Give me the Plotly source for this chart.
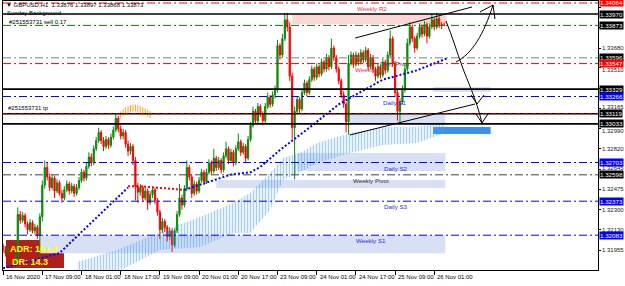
import plotly.graph_objects as go

# ---------------- data (GBPUSD H1) ----------------
opens = [1.3199, 1.3196, 1.3193, 1.3197, 1.3190, 1.3186, 1.3190, 1.3226, 1.3221, 1.3225,
         1.3218, 1.3213, 1.3219, 1.3212, 1.3215, 1.3208, 1.3224, 1.3251, 1.3266, 1.3258,
         1.3249, 1.3257, 1.3246, 1.3253, 1.3244, 1.3240, 1.3247, 1.3252, 1.3246, 1.3250,
         1.3244, 1.3249, 1.3255, 1.3262, 1.3257, 1.3267, 1.3275, 1.3270, 1.3282, 1.3289,
         1.3296, 1.3289, 1.3284, 1.3290, 1.3285, 1.3292, 1.3298, 1.3308, 1.3299, 1.3293,
         1.3296, 1.3286, 1.3280, 1.3284, 1.3272, 1.3250, 1.3245, 1.3249, 1.3240, 1.3246,
         1.3236, 1.3243, 1.3247, 1.3238, 1.3228, 1.3213, 1.3220, 1.3215, 1.3207, 1.3212,
         1.3200, 1.3212, 1.3226, 1.3240, 1.3234, 1.3248, 1.3266, 1.3258, 1.3244, 1.3252,
         1.3246, 1.3255, 1.3262, 1.3254, 1.3262, 1.3270, 1.3263, 1.3274, 1.3266, 1.3272,
         1.3264, 1.3276, 1.3282, 1.3272, 1.3279, 1.3270, 1.3282, 1.3288, 1.3279, 1.3284,
         1.3274, 1.3290, 1.3302, 1.3314, 1.3306, 1.3318, 1.3312, 1.3306, 1.3318, 1.3326,
         1.3320, 1.3328, 1.3332, 1.3370, 1.3362, 1.3376, 1.3392, 1.3386, 1.3344, 1.3300,
         1.3314, 1.3324, 1.3316, 1.3330, 1.3338, 1.3330, 1.3341, 1.3350, 1.3343, 1.3352,
         1.3346, 1.3356, 1.3350, 1.3360, 1.3352, 1.3368, 1.3360, 1.3350, 1.3340, 1.3328,
         1.3320, 1.3305, 1.3355, 1.3362, 1.3354, 1.3362, 1.3356, 1.3364, 1.3358, 1.3366,
         1.3352, 1.3360, 1.3350, 1.3344, 1.3352, 1.3345, 1.3356, 1.3349, 1.3362, 1.3376,
         1.3355, 1.3330, 1.3314, 1.3322, 1.3332, 1.3350, 1.3372, 1.3386, 1.3376, 1.3368,
         1.3378, 1.3386, 1.3380, 1.3388, 1.3378, 1.3386, 1.3392, 1.3386, 1.3393, 1.3388,
         1.33876]
highs = [1.3201, 1.3199, 1.3200, 1.3199, 1.3193, 1.3192, 1.3232, 1.3229, 1.3228, 1.3227,
         1.3220, 1.3222, 1.3221, 1.3218, 1.3217, 1.3227, 1.3255, 1.3272, 1.3270, 1.3261,
         1.3260, 1.3259, 1.3256, 1.3255, 1.3247, 1.3250, 1.3255, 1.3254, 1.3253, 1.3252,
         1.3252, 1.3258, 1.3265, 1.3264, 1.3270, 1.3279, 1.3278, 1.3285, 1.3292, 1.3300,
         1.3298, 1.3292, 1.3293, 1.3292, 1.3295, 1.3301, 1.3312, 1.3310, 1.3302, 1.3299,
         1.3298, 1.3289, 1.3287, 1.3286, 1.3275, 1.3253, 1.3252, 1.3251, 1.3249, 1.3248,
         1.3246, 1.3250, 1.3249, 1.3240, 1.3230, 1.3223, 1.3222, 1.3217, 1.3215, 1.3214,
         1.3214, 1.3229, 1.3252, 1.3243, 1.3251, 1.3272, 1.3268, 1.3260, 1.3255, 1.3254,
         1.3258, 1.3265, 1.3264, 1.3265, 1.3273, 1.3272, 1.3282, 1.3276, 1.3275, 1.3274,
         1.3279, 1.3288, 1.3284, 1.3282, 1.3281, 1.3285, 1.3295, 1.3290, 1.3287, 1.3286,
         1.3293, 1.3305, 1.3318, 1.3316, 1.3321, 1.3320, 1.3314, 1.3321, 1.3330, 1.3328,
         1.3331, 1.3336, 1.3375, 1.3372, 1.3380, 1.3398, 1.3398, 1.3390, 1.3347, 1.3318,
         1.3327, 1.3326, 1.3333, 1.3341, 1.3340, 1.3344, 1.3353, 1.3352, 1.3355, 1.3354,
         1.3359, 1.3358, 1.3363, 1.3362, 1.3376, 1.3370, 1.3362, 1.3352, 1.3342, 1.3331,
         1.3322, 1.3362, 1.3365, 1.3364, 1.3365, 1.3364, 1.3367, 1.3366, 1.3369, 1.3368,
         1.3363, 1.3362, 1.3352, 1.3355, 1.3354, 1.3359, 1.3358, 1.3365, 1.3383, 1.3378,
         1.3357, 1.3333, 1.3325, 1.3336, 1.3354, 1.3376, 1.3390, 1.3388, 1.3378, 1.3381,
         1.3389, 1.3388, 1.3391, 1.3390, 1.3389, 1.3397, 1.3394, 1.3398, 1.3395, 1.3390,
         1.33897]
lows = [1.3193, 1.3190, 1.3191, 1.3188, 1.3183, 1.3184, 1.3187, 1.3218, 1.3219, 1.3215,
        1.3209, 1.3211, 1.3210, 1.3209, 1.3205, 1.3188, 1.3220, 1.3248, 1.3255, 1.3246,
        1.3247, 1.3240, 1.3244, 1.3242, 1.3236, 1.3238, 1.3245, 1.3243, 1.3244, 1.3241,
        1.3242, 1.3247, 1.3253, 1.3254, 1.3255, 1.3265, 1.3267, 1.3268, 1.3280, 1.3287,
        1.3286, 1.3280, 1.3282, 1.3282, 1.3283, 1.3290, 1.3296, 1.3296, 1.3290, 1.3290,
        1.3283, 1.3276, 1.3277, 1.3268, 1.3238, 1.3236, 1.3242, 1.3237, 1.3238, 1.3230,
        1.3234, 1.3240, 1.3235, 1.3225, 1.3205, 1.3210, 1.3211, 1.3203, 1.3204, 1.3194,
        1.3198, 1.3210, 1.3224, 1.3230, 1.3232, 1.3246, 1.3255, 1.3240, 1.3242, 1.3243,
        1.3244, 1.3253, 1.3251, 1.3252, 1.3260, 1.3260, 1.3261, 1.3263, 1.3264, 1.3261,
        1.3262, 1.3274, 1.3269, 1.3270, 1.3267, 1.3268, 1.3280, 1.3276, 1.3277, 1.3270,
        1.3272, 1.3288, 1.3300, 1.3303, 1.3304, 1.3309, 1.3302, 1.3304, 1.3316, 1.3317,
        1.3318, 1.3325, 1.3330, 1.3358, 1.3360, 1.3374, 1.3382, 1.3340, 1.3290, 1.3256,
        1.3312, 1.3312, 1.3314, 1.3328, 1.3327, 1.3328, 1.3339, 1.3340, 1.3341, 1.3343,
        1.3344, 1.3347, 1.3348, 1.3349, 1.3350, 1.3357, 1.3347, 1.3337, 1.3325, 1.3317,
        1.3296, 1.3294, 1.3353, 1.3351, 1.3352, 1.3353, 1.3354, 1.3355, 1.3356, 1.3349,
        1.3350, 1.3347, 1.3340, 1.3342, 1.3342, 1.3343, 1.3346, 1.3347, 1.3360, 1.3352,
        1.3326, 1.3306, 1.3303, 1.3320, 1.3330, 1.3348, 1.3370, 1.3373, 1.3364, 1.3366,
        1.3376, 1.3377, 1.3378, 1.3372, 1.3376, 1.3384, 1.3383, 1.3384, 1.3385, 1.3384,
        1.33868]
closes = [1.3196, 1.3193, 1.3197, 1.3190, 1.3186, 1.3190, 1.3226, 1.3221, 1.3225, 1.3218,
          1.3213, 1.3219, 1.3212, 1.3215, 1.3208, 1.3224, 1.3251, 1.3266, 1.3258, 1.3249,
          1.3257, 1.3246, 1.3253, 1.3244, 1.3240, 1.3247, 1.3252, 1.3246, 1.3250, 1.3244,
          1.3249, 1.3255, 1.3262, 1.3257, 1.3267, 1.3275, 1.3270, 1.3282, 1.3289, 1.3296,
          1.3289, 1.3284, 1.3290, 1.3285, 1.3292, 1.3298, 1.3308, 1.3299, 1.3293, 1.3296,
          1.3286, 1.3280, 1.3284, 1.3272, 1.3250, 1.3245, 1.3249, 1.3240, 1.3246, 1.3236,
          1.3243, 1.3247, 1.3238, 1.3228, 1.3213, 1.3220, 1.3215, 1.3207, 1.3212, 1.3200,
          1.3212, 1.3226, 1.3240, 1.3234, 1.3248, 1.3266, 1.3258, 1.3244, 1.3252, 1.3246,
          1.3255, 1.3262, 1.3254, 1.3262, 1.3270, 1.3263, 1.3274, 1.3266, 1.3272, 1.3264,
          1.3276, 1.3282, 1.3272, 1.3279, 1.3270, 1.3282, 1.3288, 1.3279, 1.3284, 1.3274,
          1.3290, 1.3302, 1.3314, 1.3306, 1.3318, 1.3312, 1.3306, 1.3318, 1.3326, 1.3320,
          1.3328, 1.3332, 1.3370, 1.3362, 1.3376, 1.3392, 1.3386, 1.3344, 1.3300, 1.3314,
          1.3324, 1.3316, 1.3330, 1.3338, 1.3330, 1.3341, 1.3350, 1.3343, 1.3352, 1.3346,
          1.3356, 1.3350, 1.3360, 1.3352, 1.3368, 1.3360, 1.3350, 1.3340, 1.3328, 1.3320,
          1.3305, 1.3355, 1.3362, 1.3354, 1.3362, 1.3356, 1.3364, 1.3358, 1.3366, 1.3352,
          1.3360, 1.3350, 1.3344, 1.3352, 1.3345, 1.3356, 1.3349, 1.3362, 1.3376, 1.3355,
          1.3330, 1.3314, 1.3322, 1.3332, 1.3350, 1.3372, 1.3386, 1.3376, 1.3368, 1.3378,
          1.3386, 1.3380, 1.3388, 1.3378, 1.3386, 1.3392, 1.3386, 1.3393, 1.3388, 1.33876,
          1.33873]

time_tick_bars = [0, 16, 32, 48, 64, 80, 96, 112, 128, 144, 160, 176]
time_tick_labels = ["16 Nov 2020", "17 Nov 09:00", "18 Nov 01:00", "18 Nov 17:00",
                    "19 Nov 09:00", "20 Nov 01:00", "20 Nov 17:00", "23 Nov 09:00",
                    "24 Nov 01:00", "24 Nov 17:00", "25 Nov 09:00", "26 Nov 01:00"]

# price scale ticks (all) and the scale labels visible beside the level boxes
price_ticks = [1.34025, 1.33855, 1.33680, 1.33510, 1.33335, 1.33165, 1.32990,
               1.32820, 1.32645, 1.32475, 1.32300, 1.32130, 1.31955, 1.31785]
price_labels = [1.33680, 1.33510, 1.33165, 1.32990, 1.32820, 1.32645,
                1.32475, 1.32300, 1.32130, 1.31955, 1.31785]

# horizontal levels
level_prices = [1.34064, 1.33970, 1.33873, 1.33596, 1.33547, 1.33329, 1.33266,
                1.33119, 1.33033, 1.32703, 1.32598, 1.32373, 1.32083]
level_colors = ["#ff0000", "#000000", "#008000", "#808080", "#ff0000", "#000000", "#0000ff",
                "#000000", "#000000", "#0000ff", "#404040", "#0000ff", "#0000ff"]
level_dash = ["dd", "solid", "dd", "dd", "dd", "solid", "dd",
              "solid", "solid", "dd", "dd", "dd", "dd"]
level_box = ["#ff0000", "#000000", "#000000", "#000000", "#ff0000", "#000000", "#0000ff",
             "#000000", "#000000", "#0000ff", "#000000", "#0000ff", "#0000ff"]
tp_price = 1.33119

# pivot labels
pivot_names = ["Weekly R2", "Weekly R1", "Daily Pivot", "Daily S1", "Daily S2",
               "Weekly Pivot", "Daily S3", "Weekly S1"]
pivot_prices = [1.34064, 1.33547, 1.33596, 1.33266, 1.32703, 1.32598, 1.32373, 1.32083]
pivot_bars = [150.6, 149.8, 160.0, 160.0, 160.4, 150.2, 160.4, 150.2]
pivot_colors = ["#e8303a", "#e8303a", "#505050", "#2b2be0", "#2b2be0", "#303030", "#2b2be0", "#2b2be0"]

# zones (bar from, bar to, price low, price high, colour)
zone_b0 = [15.0, 87.0, 120.0, 141.5, 175.5, 118.0, 175.5]
zone_b1 = [180.5, 180.5, 180.5, 180.5, 199.0, 181.0, 199.0]
zone_p0 = [1.31929, 1.32485, 1.32631, 1.33040, 1.33304, 1.33885, 1.32946]
zone_p1 = [1.32083, 1.32554, 1.32784, 1.33117, 1.33347, 1.33970, 1.33006]
zone_col = ["#d8e0f6", "#d8e0f6", "#d8e0f6", "#d8e0f6", "#d8e0f6", "#fbd6d6", "#3b8ef2"]

# moving average (dotted)
ma_blue1_bars = [0, 23, 40, 51]
ma_blue1_vals = [1.3180, 1.3193, 1.3227, 1.3249]
ma_red_bars = [51, 56, 62, 68, 74]
ma_red_vals = [1.3250, 1.3250, 1.3249, 1.3248, 1.3247]
ma_blue2_bars = [74, 81, 93, 101, 105, 113, 125, 137, 155, 169, 181]
ma_blue2_vals = [1.3247, 1.3252, 1.3260, 1.3262, 1.32665, 1.3281, 1.3300, 1.3320, 1.3341, 1.3349, 1.3359]

# cloud band (vertical histogram lines)
band_bars = [30.2, 46.5, 64.1, 80.4, 93.9, 100.8, 109.0, 114.3, 121.2, 128.2, 141.6, 155.1, 169.0, 180.4]
band_top = [1.31854, 1.31956, 1.32110, 1.32238, 1.32357, 1.32443, 1.32613, 1.32741,
            1.32784, 1.32869, 1.32955, 1.33006, 1.33006, 1.33049]
band_bot = [1.31769, 1.31769, 1.31956, 1.31982, 1.32101, 1.32101, 1.32298, 1.32554,
            1.32622, 1.32699, 1.32784, 1.32852, 1.32869, 1.32955]

# orange arc indicator
arc_bars = [48, 49, 50, 51, 52, 53, 54, 55, 56, 57, 58, 59, 60]
arc_vals = [1.33110, 1.33128, 1.33145, 1.33155, 1.33163, 1.33168, 1.33168,
            1.33163, 1.33155, 1.33145, 1.33135, 1.33125, 1.33112]

# trend channel
trend_b0 = [143.7, 141.6]
trend_p0 = [1.33765, 1.32938]
trend_b1 = [191.4, 192.6]
trend_p1 = [1.34030, 1.33202]

# ---------------- figure ----------------
W, H = 625, 286
ML, MR, MT, MB = 3, 27, 1, 16
X0, X1 = 3, 598
Y0, Y1 = 1, 270


def px(x):
    return (x - X0) / (X1 - X0)


def py(y):
    return (Y1 - y) / (Y1 - Y0)


FONT = "Liberation Sans"
n = len(closes)
bars = list(range(n))

fig = go.Figure()

# cloud band
fig.add_trace(go.Scatter(x=band_bars, y=band_bot, mode="lines", line=dict(width=0),
                         hoverinfo="skip", showlegend=False))
fig.add_trace(go.Scatter(x=band_bars, y=band_top, mode="lines", line=dict(width=0),
                         fill="tonexty", fillcolor="rgba(0,0,0,0)",
                         fillpattern=dict(shape="|", size=3, solidity=0.5, fgcolor="#4d9ff0"),
                         hoverinfo="skip", showlegend=False))

# orange arc
fig.add_trace(go.Scatter(x=arc_bars, y=arc_vals, mode="markers",
                         marker=dict(symbol="line-ns", size=5, line=dict(width=1, color="#ffa020")),
                         hoverinfo="skip", showlegend=False))

# moving average
for bx, by, col in [(ma_blue1_bars, ma_blue1_vals, "#0000ff"),
                    (ma_red_bars, ma_red_vals, "#ff0000"),
                    (ma_blue2_bars, ma_blue2_vals, "#0000ff")]:
    fig.add_trace(go.Scatter(x=bx, y=by, mode="lines",
                             line=dict(color=col, width=2, dash="2px,2px"),
                             hoverinfo="skip", showlegend=False))

# candles
fig.add_trace(go.Candlestick(
    x=bars, open=opens, high=highs, low=lows, close=closes,
    increasing=dict(line=dict(color="#0a8a0a", width=1), fillcolor="#0a8a0a"),
    decreasing=dict(line=dict(color="#ff0000", width=1), fillcolor="#ff0000"),
    whiskerwidth=0, hoverinfo="skip", showlegend=False))

shapes = []
# zones
for b0, b1, p0, p1, c in zip(zone_b0, zone_b1, zone_p0, zone_p1, zone_col):
    shapes.append(dict(type="rect", xref="x", yref="y", x0=b0, x1=b1, y0=p0, y1=p1,
                       fillcolor=c, line=dict(width=0), layer="below"))
# ADR box
shapes.append(dict(type="rect", xref="paper", yref="paper", x0=px(6), x1=px(64),
                   y0=py(268), y1=py(240), fillcolor="#b01e1e", line=dict(width=0), layer="below"))
# levels
for p, c, d in zip(level_prices, level_colors, level_dash):
    shapes.append(dict(type="line", xref="paper", yref="y", x0=0, x1=1, y0=p, y1=p,
                       line=dict(color=c, width=1.6 if d == "solid" else 1,
                                 dash="solid" if d == "solid" else "8px,3px,2px,3px"),
                       layer="above"))
shapes.append(dict(type="line", xref="paper", yref="y", x0=0, x1=1, y0=tp_price, y1=tp_price,
                   line=dict(color="#c00000", width=1, dash="5px,3px"), layer="above"))
# trend channel
for b0, p0, b1, p1 in zip(trend_b0, trend_p0, trend_b1, trend_p1):
    shapes.append(dict(type="line", xref="x", yref="y", x0=b0, y0=p0, x1=b1, y1=p1,
                       line=dict(color="#000000", width=1), layer="above"))


# hand drawn arrows (pixel positions -> paper)
def P(x, y):
    return f"{px(x):.5f},{py(y):.5f}"


paths = [
    f"M{P(446,21)} C{P(452,36)} {P(457,52)} {P(462,66)} S{P(476,98)} {P(482,123)}",
    f"M{P(471,95)} L{P(477,104)} L{P(484,95)}",
    f"M{P(476,114)} L{P(482,123)} L{P(488,114)}",
    f"M{P(456,62)} C{P(472,54)} {P(484,34)} {P(493,5)}",
    f"M{P(480,12)} L{P(493,5)} L{P(495,19)}",
]
for pth in paths:
    shapes.append(dict(type="path", xref="paper", yref="paper", path=pth,
                       line=dict(color="#000000", width=1), layer="above"))

annotations = []
# gray price-scale labels (nudged a touch clear of the level boxes)
label_nudge = {1.33510: -2, 1.32990: -2, 1.33165: 1, 1.32645: 1}
for v in price_labels:
    annotations.append(dict(xref="paper", yref="y", x=1, y=v, xanchor="left", yanchor="middle",
                            xshift=3, yshift=label_nudge.get(v, 0), text=f"{v:.5f}",
                            showarrow=False, borderpad=0,
                            font=dict(family=FONT, size=6, color="#202020")))
# right-side price boxes
for p, c in zip(level_prices, level_box):
    annotations.append(dict(xref="paper", yref="y", x=1, y=p, xanchor="left", yanchor="middle",
                            xshift=1, text=f"{p:.5f}", showarrow=False, bgcolor=c,
                            borderpad=0, font=dict(family=FONT, size=6.2, color="#ffffff")))
# time labels
for b, t in zip(time_tick_bars, time_tick_labels):
    annotations.append(dict(xref="x", yref="paper", x=b, y=0, xanchor="left", yanchor="top",
                            xshift=1, yshift=-2, text=t, showarrow=False,
                            font=dict(family=FONT, size=6, color="#000000")))
# pivot labels
for nm, p, b, c in zip(pivot_names, pivot_prices, pivot_bars, pivot_colors):
    annotations.append(dict(xref="x", yref="y", x=b, y=p, xanchor="center", yanchor="top",
                            yshift=-1, text=nm, showarrow=False, borderpad=0,
                            font=dict(family=FONT, size=6.2, color=c)))
# texts
annotations += [
    dict(xref="paper", yref="paper", x=px(4), y=py(5), xanchor="left", yanchor="middle",
         text="▼ GBPUSD,H1  1.33876 1.33897 1.33868 1.33873", showarrow=False,
         font=dict(family=FONT, size=6, color="#000000")),
    dict(xref="paper", yref="paper", x=px(5), y=py(13), xanchor="left", yanchor="middle",
         text="Sunday Background", showarrow=False,
         font=dict(family=FONT, size=6, color="#000000")),
    dict(xref="paper", yref="paper", x=px(7), y=py(22), xanchor="left", yanchor="middle",
         text="#251553731 sell 0.17", showarrow=False,
         font=dict(family=FONT, size=6, color="#000000")),
    dict(xref="paper", yref="paper", x=px(6), y=py(108), xanchor="left", yanchor="middle",
         text="#251553731 tp", showarrow=False,
         font=dict(family=FONT, size=6, color="#000000")),
    dict(xref="paper", yref="paper", x=px(8), y=py(249), xanchor="left", yanchor="middle",
         text="<b>ADR: 101.3</b>", showarrow=False,
         font=dict(family=FONT, size=9, color="#ffff00")),
    dict(xref="paper", yref="paper", x=px(10), y=py(262), xanchor="left", yanchor="middle",
         text="<b>DR: 14.3</b>", showarrow=False,
         font=dict(family=FONT, size=9, color="#ffff00")),
]

fig.update_layout(
    width=W, height=H,
    margin=dict(l=ML, r=MR, t=MT, b=MB, pad=0),
    paper_bgcolor="#ffffff", plot_bgcolor="#ffffff",
    showlegend=False,
    shapes=shapes, annotations=annotations,
    font=dict(family=FONT, size=6, color="#000000"),
)
fig.update_xaxes(range=[-0.04, 242.82], tickvals=time_tick_bars, showticklabels=False,
                 ticks="outside", ticklen=4, tickcolor="#000000", tickwidth=1,
                 showgrid=False, zeroline=False, showline=True, linecolor="#000000",
                 linewidth=1, mirror=True, rangeslider=dict(visible=False), fixedrange=True)
fig.update_yaxes(range=[1.31786, 1.34081], side="right", tickvals=price_ticks,
                 showticklabels=False,
                 ticks="outside", ticklen=2, tickcolor="#000000",
                 showgrid=False, zeroline=False, showline=True, linecolor="#000000",
                 linewidth=1, mirror=True, fixedrange=True)

fig.write_html("out.html")
